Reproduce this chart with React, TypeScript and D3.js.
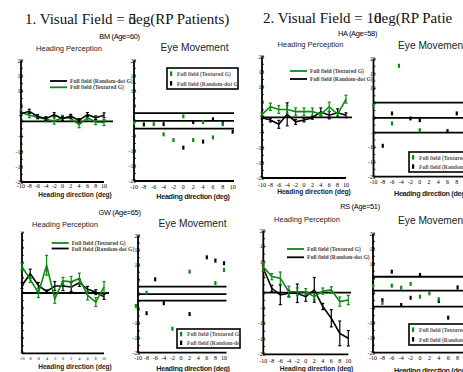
import React from 'react';
import * as d3 from 'd3';

const headingX = [-10, -8, -6, -4, -2, 0, 2, 4, 6, 8, 10];
const yTicks = [20, 15, 10, 5, 0, -5, -10, -15, -20];
const xTicks = [-10, -8, -6, -4, -2, 0, 2, 4, 6, 8, 10];

// BM (Age=60)
const bmRandom = [2.5, 3.3, 1.6, 0.9, 2.2, 0.9, 1.7, 0.3, 2.2, 1.2, 2.0];
const bmRandomErr = [0.6, 0.7, 0.6, 0.6, 0.7, 0.6, 0.6, 0.6, 0.7, 0.6, 0.8];
const bmTextured = [2.9, 2.0, 1.4, 0.7, 0.1, 1.2, 1.0, -1.1, 1.2, -0.2, -0.4];
const bmTexturedErr = [0.8, 0.8, 0.6, 0.8, 1.0, 0.8, 0.8, 1.0, 0.8, 0.9, 1.0];
const bmEyeTextured: [number, number][] = [[-10, -0.7], [-6, -1.1], [-4, -4.5], [-2, -6.4], [0, 1.5], [2, -6.4], [4, -0.4], [6, -5.5], [8, -1.1]];
const bmEyeRandom: [number, number][] = [[-8, -1.2], [-4, -1.1], [0, -8.9], [2, -0.4], [4, -6.9], [6, 0.5], [8, -0.7], [10, -3.6]];
const bmEyeBands = [2.6, 0, -2.6];

// HA (Age=58)
const haTextured = [1.0, 3.5, 2.6, 2.6, 1.9, 1.9, 1.9, 1.0, 3.5, 1.0, 6.0];
const haTexturedErr = [0.5, 1.2, 1.3, 1.2, 1.2, 1.2, 1.2, 0.5, 1.5, 0.5, 1.3];
const haRandom = [-0.1, -0.9, -2.3, 1.0, -1.5, -0.9, -0.1, 1.8, 0.7, 1.5, 0.7];
const haRandomErr = [0.4, 0.6, 1.3, 3.8, 0.8, 0.6, 0.5, 1.3, 1.2, 1.3, 0.8];
const haEyeTextured: [number, number][] = [[-10, 4.1], [-4.5, 17.7], [-6, -1.9], [0, -4.2]];
const haEyeRandom: [number, number][] = [[-8, -9.5], [-6, 1.5], [-2, -0.2], [0, -0.8], [6, -4.5], [8, 1.5]];
const haEyeBands = [5.2, 0, -5];

// GW (Age=65)
const gwTextured = [8.7, 4.5, 0, 9.2, -1.9, 4.0, 3.7, 4.8, -0.8, -3.0, 2.0];
const gwTexturedErr = [1.2, 1.0, 1.5, 3.3, 1.5, 1.2, 1.8, 1.8, 1.5, 1.5, 1.8];
const gwRandom = [2.5, 6.4, 2.5, 0.5, 2.3, 2.3, 2.0, 3.4, 1.2, 0.3, -1.3];
const gwRandomErr = [1, 1.5, 1, 0.5, 1.5, 1.5, 1.5, 1.2, 1, 0.8, 0.8];
const gwEyeTextured: [number, number][] = [[-10.5, -4.0], [-8, 0.5], [-2, -11.8], [-0.2, -12.8], [2, 7.7], [8, 3.8], [10, 8.3]];
const gwEyeRandom: [number, number][] = [[-8, -6.5], [-6, 5.1], [-4, -3.1], [2, -6.8], [6, 12.6], [8, 11.5], [10, 10.6]];
const gwEyeBands = [2.6, 0, -2.2];

// RS (Age=51)
const rsTextured = [8.4, 5.2, 4.7, 0.3, 0.3, 0.3, -1.3, 0.5, 0.9, -2.9, -2.4];
const rsTexturedErr = [1.5, 1, 2, 1.8, 1.2, 1, 1, 1, 1, 1.5, 1.5];
const rsRandom = [7.9, 1.4, -0.7, -0.2, -0.2, -1.3, 0.9, -4.5, -8.3, -13.2, -14.8];
const rsRandomErr = [1, 1, 3.2, 1, 3, 1.5, 4, 1, 2.8, 4, 2.5];
const rsEyeTextured: [number, number][] = [[-10, 2.5], [-8, -3.2], [-6, 2.6], [-4, 1.9], [-2, 3.2], [0, -1.1], [2, 0], [4, -2.0]];
const rsEyeRandom: [number, number][] = [[-10, 3.4], [-8, -2.3], [-6, 7.3], [-4, -3.9], [-2, -1.5], [0, 6.2], [4, -2.6], [6, -8.2], [8, 2.0]];
const rsEyeBands = [5.6, 0.9, -4.5];

const GREEN = '#0b8a12';
const LABEL_TEXTURED = 'Full field (Textured G)';
const LABEL_RANDOM = 'Full field (Random-dot G)';

type Box = { x0: number; x1: number; yTop: number; yBot: number };

function Axes({ b, x, y, tickFont, tickY, lineEnd }: any) {
  const minor = d3.range(-20, 20.01, 2.5);
  return (
    <g>
      {minor.map(v => (
        <line key={'m' + v} x1={b.x0} x2={b.x0 + 2} y1={y(v)} y2={y(v)} stroke="#000" strokeWidth={0.8} />
      ))}
      {yTicks.map(v => (
        <text key={'y' + v} x={b.x0 + 2} y={y(v) + tickFont * 0.35} fontSize={tickFont} textAnchor="end"
          fontFamily="Liberation Serif, serif" fill="#000">{v}</text>
      ))}
      {xTicks.map(v => (
        <text key={'x' + v} x={x(v)} y={tickY} fontSize={tickFont + 0.4} textAnchor="middle"
          fontFamily="Liberation Serif, serif" fill="#000">{v}</text>
      ))}
      <line x1={b.x0} x2={b.x0} y1={b.yTop} y2={b.yBot} stroke="#000" strokeWidth={1.8} />
      <line x1={b.x0} x2={lineEnd} y1={b.yBot} y2={b.yBot} stroke="#000" strokeWidth={1.8} />
    </g>
  );
}

function Series({ x, y, vals, errs, color }: any) {
  const line = d3.line<number>().x((_, i) => x(headingX[i])).y(v => y(v));
  return (
    <g>
      <path d={line(vals) || ''} fill="none" stroke={color} strokeWidth={1.6} />
      {vals.map((v: number, i: number) => {
        const cx = x(headingX[i]);
        const t = y(v + errs[i]);
        const bt = y(v - errs[i]);
        return (
          <g key={i} stroke={color} strokeWidth={1.2}>
            <line x1={cx} x2={cx} y1={t} y2={bt} />
            <line x1={cx - 1.5} x2={cx + 1.5} y1={t} y2={t} />
            <line x1={cx - 1.5} x2={cx + 1.5} y1={bt} y2={bt} />
          </g>
        );
      })}
    </g>
  );
}

function HeadingPanel({ b, green, greenErr, black, blackErr, legend, order, tickFont, tickY, zeroEnd, xlabel }: any) {
  const x = d3.scaleLinear().domain([-10, 10]).range([b.x0, b.x1]);
  const y = d3.scaleLinear().domain([-20, 20]).range([b.yBot, b.yTop]);
  const entries = order.map((k: string) => k === 'r'
    ? { color: '#000', label: LABEL_RANDOM }
    : { color: GREEN, label: LABEL_TEXTURED });
  return (
    <g>
      <Axes b={b} x={x} y={y} tickFont={tickFont} tickY={tickY} lineEnd={b.x1} />
      <line x1={b.x0} x2={zeroEnd} y1={y(0)} y2={y(0)} stroke="#000" strokeWidth={1.8} />
      {order[0] === 'r' ? (
        <>
          <Series x={x} y={y} vals={green} errs={greenErr} color={GREEN} />
          <Series x={x} y={y} vals={black} errs={blackErr} color="#000" />
        </>
      ) : (
        <>
          <Series x={x} y={y} vals={black} errs={blackErr} color="#000" />
          <Series x={x} y={y} vals={green} errs={greenErr} color={GREEN} />
        </>
      )}
      {entries.map((e: any, i: number) => {
        const ly = legend.y + i * legend.dy;
        return (
          <g key={i}>
            <line x1={legend.x} x2={legend.x + 17} y1={ly} y2={ly} stroke={e.color} strokeWidth={1.8} />
            <text x={legend.x + 20} y={ly + 2} fontSize={5.6} fontWeight="bold" fill="#444"
              fontFamily="Liberation Serif, serif">{e.label}</text>
          </g>
        );
      })}
      <text x={xlabel.x} y={xlabel.y} fontSize={6.6} fontWeight="bold" textAnchor="middle"
        fontFamily="Liberation Sans, Arial, sans-serif" fill="#222">Heading direction (deg)</text>
    </g>
  );
}

function Marks({ x, y, pts, color }: any) {
  return (
    <g fill={color}>
      {pts.map((p: [number, number], i: number) => (
        <rect key={i} x={x(p[0]) - 1.1} y={y(p[1]) - 2} width={2.2} height={4} />
      ))}
    </g>
  );
}

function EyePanel({ id, b, textured, random, bands, bandEnd, legend, tickFont, tickY, xlabel }: any) {
  const x = d3.scaleLinear().domain([-10, 10]).range([b.x0, b.x1]);
  const y = d3.scaleLinear().domain([-20, 20]).range([b.yBot, b.yTop]);
  return (
    <g>
      <Axes b={b} x={x} y={y} tickFont={tickFont} tickY={tickY} lineEnd={bandEnd} />
      {bands.map((v: number, i: number) => (
        <line key={i} x1={b.x0} x2={bandEnd} y1={y(v)} y2={y(v)} stroke="#000" strokeWidth={1.8} />
      ))}
      <Marks x={x} y={y} pts={random} color="#000" />
      <Marks x={x} y={y} pts={textured} color={GREEN} />
      <clipPath id={id}>
        <rect x={legend.x} y={legend.y} width={legend.w} height={legend.h} />
      </clipPath>
      <rect x={legend.x} y={legend.y} width={legend.w} height={legend.h} fill="#fff" stroke="#000" strokeWidth={1.6} />
      <g clipPath={`url(#${id})`}>
        {[{ c: GREEN, t: LABEL_TEXTURED }, { c: '#000', t: LABEL_RANDOM }].map((e, i) => {
          const ly = legend.y + legend.h * (0.28 + i * 0.46);
          return (
            <g key={i}>
              <rect x={legend.x + 3} y={ly - 2.5} width={2.2} height={4.5} fill={e.c} />
              <text x={legend.x + 10} y={ly + 2} fontSize={5.6} fontWeight="bold" fill="#555"
                fontFamily="Liberation Serif, serif">{e.t}</text>
            </g>
          );
        })}
      </g>
      <text x={xlabel.x} y={xlabel.y} fontSize={7.2} fontWeight="bold" textAnchor={xlabel.anchor || 'middle'}
        letterSpacing={-0.3} fontFamily="Liberation Sans, Arial, sans-serif" fill="#222">Heading direction (deg)</text>
    </g>
  );
}

const sans = 'Liberation Sans, Arial, sans-serif';
const serif = 'Liberation Serif, Times New Roman, serif';

export default function App() {
  const p1: Box = { x0: 21, x1: 104, yTop: 60.7, yBot: 182 };
  const p2: Box = { x0: 134, x1: 232.7, yTop: 60.7, yBot: 181 };
  const p3: Box = { x0: 262, x1: 346, yTop: 56.7, yBot: 178 };
  const p4: Box = { x0: 373.5, x1: 466, yTop: 59, yBot: 176.7 };
  const p5: Box = { x0: 22, x1: 104, yTop: 232.7, yBot: 353.3 };
  const p6: Box = { x0: 138, x1: 224, yTop: 235.7, yBot: 352.7 };
  const p7: Box = { x0: 263.3, x1: 348.3, yTop: 231, yBot: 354.3 };
  const p8: Box = { x0: 373, x1: 467, yTop: 234, yBot: 352.7 };

  return (
    <svg width={463} height={372} style={{ position: 'absolute', left: 0, top: 0, background: '#fff' }}>
      <rect width={463} height={372} fill="#fff" />
      <text x={25} y={24} fontSize={15} fontFamily={serif} fill="#111">
        <tspan>1. Visual Field = 5</tspan><tspan dx={-7.5}>deg(RP Patients)</tspan>
      </text>
      <text x={263} y={23} fontSize={15} fontFamily={serif} fill="#111">
        <tspan>2. Visual Field = 10</tspan><tspan dx={-7.5}>deg(RP Patie</tspan>
      </text>

      <text x={119.5} y={38.5} fontSize={7.4} textAnchor="middle" fontFamily={sans} letterSpacing={-0.3}>BM (Age=60)</text>
      <text x={357.5} y={35.5} fontSize={7.4} textAnchor="middle" fontFamily={sans} letterSpacing={-0.3}>HA (Age=58)</text>
      <text x={119.5} y={214.5} fontSize={7.4} textAnchor="middle" fontFamily={sans} letterSpacing={-0.3}>GW (Age=65)</text>
      <text x={360} y={209} fontSize={7.4} textAnchor="middle" fontFamily={sans} letterSpacing={-0.3}>RS (Age=51)</text>

      <text x={69} y={50.5} fontSize={7.5} textAnchor="middle" fontFamily={sans} fill="#222">Heading Perception</text>
      <text x={310.5} y={46.5} fontSize={7.5} textAnchor="middle" fontFamily={sans} fill="#222">Heading Perception</text>
      <text x={65} y={227} fontSize={7.5} textAnchor="middle" fontFamily={sans} fill="#222">Heading Perception</text>
      <text x={307} y={222} fontSize={7.5} textAnchor="middle" fontFamily={sans} fill="#222">Heading Perception</text>

      <text x={194.5} y={51} fontSize={10.2} textAnchor="middle" fontFamily={sans} fill="#222">Eye Movement</text>
      <text x={398} y={49} fontSize={10.2} fontFamily={sans} fill="#222">Eye Movement</text>
      <text x={192.5} y={226.5} fontSize={10.2} textAnchor="middle" fontFamily={sans} fill="#222">Eye Movement</text>
      <text x={398} y={223.5} fontSize={10.2} fontFamily={sans} fill="#222">Eye Movement</text>

      <HeadingPanel b={p1} green={bmTextured} greenErr={bmTexturedErr} black={bmRandom} blackErr={bmRandomErr}
        order={['r', 't']} legend={{ x: 50, y: 81, dy: 6.3 }} tickFont={5.6} tickY={188} zeroEnd={113}
        xlabel={{ x: 75, y: 197 }} />
      <EyePanel id="lg2" b={p2} textured={bmEyeTextured} random={bmEyeRandom} bands={bmEyeBands} bandEnd={234}
        legend={{ x: 167, y: 68, w: 71, h: 21 }} tickFont={5.6} tickY={188.5} xlabel={{ x: 193, y: 198.5 }} />

      <HeadingPanel b={p3} green={haTextured} greenErr={haTexturedErr} black={haRandom} blackErr={haRandomErr}
        order={['t', 'r']} legend={{ x: 290, y: 71, dy: 8 }} tickFont={5.6} tickY={187} zeroEnd={352}
        xlabel={{ x: 314, y: 194 }} />
      <EyePanel id="lg4" b={p4} textured={haEyeTextured} random={haEyeRandom} bands={haEyeBands} bandEnd={470}
        legend={{ x: 409, y: 152, w: 70, h: 20 }} tickFont={5.6} tickY={184} xlabel={{ x: 394, y: 196, anchor: 'start' }} />

      <HeadingPanel b={p5} green={gwTextured} greenErr={gwTexturedErr} black={gwRandom} blackErr={gwRandomErr}
        order={['t', 'r']} legend={{ x: 51.7, y: 243, dy: 5.5 }} tickFont={3.4} tickY={359.5} zeroEnd={109}
        xlabel={{ x: 75, y: 369 }} />
      <EyePanel id="lg6" b={p6} textured={gwEyeTextured} random={gwEyeRandom} bands={gwEyeBands} bandEnd={226.5}
        legend={{ x: 177, y: 329, w: 63, h: 19 }} tickFont={5.6} tickY={360} xlabel={{ x: 193, y: 370.5 }} />

      <HeadingPanel b={p7} green={rsTextured} greenErr={rsTexturedErr} black={rsRandom} blackErr={rsRandomErr}
        order={['t', 'r']} legend={{ x: 287, y: 249, dy: 8.3 }} tickFont={5.6} tickY={363} zeroEnd={351}
        xlabel={{ x: 316.5, y: 371 }} />
      <EyePanel id="lg8" b={p8} textured={rsEyeTextured} random={rsEyeRandom} bands={rsEyeBands} bandEnd={470}
        legend={{ x: 409, y: 324, w: 70, h: 21 }} tickFont={5.6} tickY={360} xlabel={{ x: 394, y: 373, anchor: 'start' }} />
    </svg>
  );
}
